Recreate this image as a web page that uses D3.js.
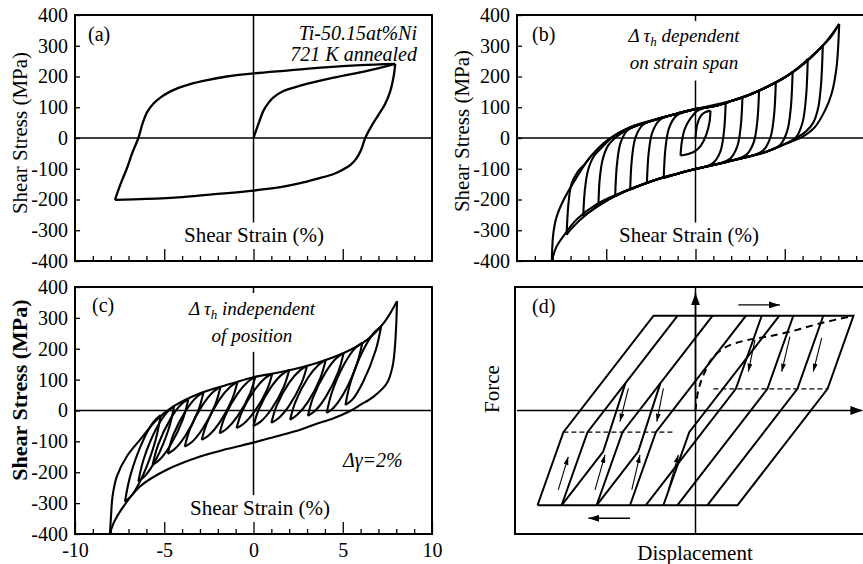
<!DOCTYPE html>
<html>
<head>
<meta charset="utf-8">
<title>Shear stress - strain loops</title>
<script src="https://cdn.jsdelivr.net/npm/d3@7"></script>
<style>
  body { margin: 0; background: #fff; }
  svg, text { font-family: "Liberation Serif", "Tinos", "Times New Roman", Times, "Nimbus Roman", "FreeSerif", "DejaVu Serif", serif; }
</style>
</head>
<body>
<svg width="863" height="564" id="mainsvg"></svg>
<script>
// ---------- data (strain %, shear stress MPa) ----------
const strainMinor = [-9,-8,-7,-6,-4,-3,-2,-1,1,2,3,4,6,7,8,9]
const strainMajor = [-5, 0, 5]
const strainLabels = [-10, -5, 0, 5, 10]
const stressTicks = [-400,-300,-200,-100,0,100,200,300,400]

// (a) single loop with virgin curve
const aVirgin = [[0,0],[0.3,50],[0.56,89],[0.85,115],[1.12,132],[1.68,153],[2.62,170],[4.49,196],[6.36,218],[7.94,241]]
const aUpper = [[7.94,241],[6,237],[4,230],[2,220],[0,210],[-1.5,200],[-2.6,188],[-3.55,175],[-4.2,163],[-4.7,150],[-5.2,132],[-5.6,112],[-5.95,85],[-6.2,50],[-6.45,0],[-6.8,-50],[-7.1,-100],[-7.45,-150],[-7.76,-201]]
const aLower = [[-7.76,-201],[-6,-198],[-4,-192],[-2,-182],[0,-171],[1.5,-160],[2.62,-147],[3.6,-132],[4.49,-117],[5.0,-103],[5.42,-88],[5.75,-68],[6.02,-40],[6.26,0],[6.6,38],[7.0,75],[7.35,108],[7.65,150],[7.85,200],[7.94,241]]

// (b) growing strain span, one branch per half cycle
const bBranches = [
  [[0,0],[0.1,45],[0.3,72],[0.55,84],[0.84,89]],
  [[0.84,89],[0.78,50],[0.6,10],[0.3,-25],[0,-42],[-0.4,-52],[-0.84,-57]],
  [[-0.84,-57],[-0.76,-10],[-0.6,30],[-0.3,62],[0.1,88],[0.6,100],[1.2,106],[1.69,112]],
  [[1.69,112],[1.59,18],[1.39,-44],[0.99,-81],[0.39,-96],[0,-101],[-1,-116],[-1.78,-130]],
  [[-1.78,-130],[-1.68,-32],[-1.48,33],[-1.08,72],[-0.48,87],[0,94],[1,103],[2,120],[2.63,132]],
  [[2.63,132],[2.53,35],[2.33,-29],[1.93,-68],[1.33,-83],[0,-101],[-1,-116],[-2,-132],[-2.72,-146]],
  [[-2.72,-146],[-2.62,-47],[-2.42,18],[-2.02,58],[-1.42,73],[-1,80],[0,94],[1,103],[2,120],[3,140],[3.56,154]],
  [[3.56,154],[3.46,53],[3.26,-14],[2.86,-54],[2.26,-70],[1,-88],[0,-101],[-1,-116],[-2,-132],[-3,-152],[-3.66,-168]],
  [[-3.66,-168],[-3.56,-66],[-3.36,2],[-2.96,42],[-2.36,58],[-1,80],[0,94],[1,103],[2,120],[3,140],[4,166],[4.5,181]],
  [[4.5,181],[4.4,74],[4.2,2],[3.8,-40],[3.2,-57],[2,-74],[1,-88],[0,-101],[-1,-116],[-2,-132],[-3,-152],[-4,-175],[-4.5,-190]],
  [[-4.5,-190],[-4.4,-86],[-4.2,-16],[-3.8,26],[-3.2,42],[-2,64],[-1,80],[0,94],[1,103],[2,120],[3,140],[4,166],[5,197],[5.44,214]],
  [[5.44,214],[5.34,99],[5.14,23],[4.74,-23],[4.14,-41],[3,-60],[2,-74],[1,-88],[0,-101],[-1,-116],[-2,-132],[-3,-152],[-4,-175],[-5,-204],[-5.44,-220]],
  [[-5.44,-220],[-5.36,-130],[-5.2,-70],[-4.9,-25],[-4.4,5],[-3.7,30],[-3,46],[-2,64],[-1,80],[0,94],[1,103],[2,120],[3,140],[4,166],[5,197],[6,240],[6.29,257]],
  [[6.29,257],[6.19,132],[5.99,49],[5.59,-1],[4.99,-20],[4,-44],[3,-60],[2,-74],[1,-88],[0,-101],[-1,-116],[-2,-132],[-3,-152],[-4,-175],[-5,-204],[-6,-243],[-6.29,-255]],
  [[-6.29,-255],[-6.2,-170],[-6.02,-105],[-5.7,-60],[-5.2,-28],[-4.6,5],[-4,24],[-3,46],[-2,64],[-1,80],[0,94],[1,103],[2,120],[3,140],[4,166],[5,197],[6,240],[7,293],[7.13,300]],
  [[7.13,300],[7.04,180],[6.88,100],[6.6,50],[6.2,22],[5.7,2],[5,-20],[4,-44],[3,-60],[2,-74],[1,-88],[0,-101],[-1,-116],[-2,-132],[-3,-152],[-4,-175],[-5,-204],[-6,-243],[-7,-298],[-7.22,-315]],
  [[-7.22,-315],[-7.12,-215],[-6.95,-150],[-6.6,-110],[-6.2,-85],[-5.91,-63],[-4.97,-9],[-3.66,35],[-3,46],[-2,64],[-1,80],[0,94],[1,103],[2,120],[3,140],[4,166],[5,197],[6,240],[7,293],[7.6,330],[8.05,371]],
  [[8.05,371],[7.9,230],[7.62,143],[7.25,89],[6.68,35],[5.93,2],[4.99,-20],[3.85,-47],[1.97,-74],[0,-101],[-1.78,-128],[-3.66,-166],[-5.53,-215],[-6.66,-265],[-7.41,-320],[-7.8,-355],[-8.05,-400]],
  [[-8.05,-400],[-7.97,-313],[-7.79,-258],[-7.41,-204],[-6.66,-128],[-5.91,-63],[-4.97,-9],[-3.66,35],[-1.78,67],[0,94],[1.97,120],[3.85,162],[5.72,225],[7.13,300],[8.05,371]]
]

// (c) outer loop and Δγ = 2 % loops at shifted positions
const cOuterUp = [[-8.04,-398],[-7.97,-330],[-7.9,-279],[-7.66,-214],[-7.1,-149],[-6.36,-95],[-5.42,-30],[-4.49,13],[-2.99,56],[-1.12,89],[0,108],[1.68,126],[3.55,154],[5.05,186],[6.36,229],[7.29,283],[8.04,354]]
const cOuterDown = [[8.04,354],[7.99,270],[7.9,190],[7.78,140],[7.48,89],[6.73,45],[5.98,18],[5.3,-5],[4.49,-25],[3.5,-44],[2.62,-62],[1.2,-85],[0,-104],[-1.5,-125],[-2.99,-149],[-4.86,-192],[-6.36,-246],[-7.29,-311],[-7.8,-360],[-8.04,-398]]
const cLoopRise = [
  [[-7.2,-295],[-6.9,-211],[-6.2,-99],[-5.6,-37],[-5.2,-15]],
  [[-6.45,-230],[-6.15,-157],[-5.45,-59],[-4.85,-6],[-4.45,14]],
  [[-5.65,-176],[-5.35,-112],[-4.65,-27],[-4.05,20],[-3.65,37]],
  [[-4.8,-140],[-4.5,-80],[-3.8,-1],[-3.2,43],[-2.8,59]],
  [[-3.85,-117],[-3.55,-59],[-2.85,18],[-2.25,61],[-1.85,76]],
  [[-2.9,-95],[-2.6,-39],[-1.9,36],[-1.3,77],[-0.9,92]],
  [[-1.9,-74],[-1.6,-19],[-0.9,54],[-0.3,94],[0.1,109]],
  [[-0.95,-57],[-0.65,-4],[0.05,66],[0.65,105],[1.05,119]],
  [[0,-50],[0.3,4],[1.0,77],[1.6,117],[2.0,131]],
  [[1,-40],[1.3,16],[2.0,90],[2.6,130],[3,145]],
  [[2.05,-30],[2.35,28],[3.05,106],[3.65,148],[4.05,164]],
  [[3.05,-17],[3.35,44],[4.05,125],[4.65,170],[5.05,186]],
  [[4.1,-8],[4.4,60],[5.1,152],[5.7,202],[6.1,220]],
  [[5.15,18],[5.45,94],[6.15,196],[6.75,252],[7.15,272]]
]
const cLoopFall = [
  [[-5.2,-15],[-5.5,-99],[-6.2,-211],[-6.8,-273],[-7.2,-295]],
  [[-4.45,14],[-4.75,-59],[-5.45,-157],[-6.05,-210],[-6.45,-230]],
  [[-3.65,37],[-3.95,-27],[-4.65,-112],[-5.25,-159],[-5.65,-176]],
  [[-2.8,59],[-3.1,-1],[-3.8,-80],[-4.4,-124],[-4.8,-140]],
  [[-1.85,76],[-2.15,18],[-2.85,-59],[-3.45,-102],[-3.85,-117]],
  [[-0.9,92],[-1.2,36],[-1.9,-39],[-2.5,-80],[-2.9,-95]],
  [[0.1,109],[-0.2,54],[-0.9,-19],[-1.5,-59],[-1.9,-74]],
  [[1.05,119],[0.75,66],[0.05,-4],[-0.55,-43],[-0.95,-57]],
  [[2.0,131],[1.7,77],[1.0,4],[0.4,-36],[0,-50]],
  [[3,145],[2.7,90],[2.0,16],[1.4,-25],[1,-40]],
  [[4.05,164],[3.75,106],[3.05,28],[2.45,-14],[2.05,-30]],
  [[5.05,186],[4.75,125],[4.05,44],[3.45,-1],[3.05,-17]],
  [[6.1,220],[5.8,152],[5.1,60],[4.5,10],[4.1,-8]],
  [[7.15,272],[6.85,196],[6.15,94],[5.55,36],[5.15,18]]
]

// (d) schematic, arbitrary displacement / force units
const dOuter = [[-8.85,-307],[-7.4,-70],[-2.35,307],[8.85,307],[7.4,70],[2.35,-307],[-8.85,-307]]
const dLeftCopies = [
  [[-7.5,-307],[-6.05,-70],[-1.0,307]],
  [[-5.54,-307],[-4.09,-70],[0.96,307]],
  [[-3.67,-307],[-2.22,-70],[2.83,307]],
  [[-1.8,-307],[-0.35,-70],[4.7,307]]
]
const dRightCopies = [
  [[7.16,307],[5.71,70],[0.66,-307]],
  [[5.48,307],[4.03,70],[-1.02,-307]],
  [[3.71,307],[2.26,70],[-2.79,-307]]
]
const dLoopLines = [
  [[-7.5,-307],[-5.17,-133],[-3.93,88]],
  [[-5.54,-307],[-3.21,-133],[-1.97,88]]
]
const dDashed = [
  [[-7.4,-70],[-1.15,-70]],
  [[1.0,70],[7.4,70]]
]
const dVirgin = [[0,0],[0.16,66],[0.53,126],[1.0,174],[1.75,207],[2.87,228],[3.99,239],[5.29,255],[6.97,282],[8.85,307]]
const dSmallArrows = [
  [[-7.69,-257],[-7.13,-150]], [[-5.63,-257],[-5.07,-144]],
  [[-3.57,-257],[-3.11,-144]], [[-1.52,-257],[-0.96,-144]],
  [[-3.76,72],[-4.23,-36]], [[-1.8,72],[-2.17,-36]],
  [[3.33,229],[2.96,126]], [[5.29,239],[4.83,126]], [[7.07,235],[6.6,126]]
]
const dSideArrows = [
  [[2.4,342],[4.73,342]],
  [[-3.67,-349],[-6.0,-349]]
]

// ---------- layout ----------
const serif = '"Liberation Serif", "Tinos", "Times New Roman", Times, "Nimbus Roman", "FreeSerif", "DejaVu Serif", serif'
const svg = d3.select('#mainsvg').attr('font-family', serif)
svg.append('rect').attr('width', 863).attr('height', 564).attr('fill', '#fff')

const frames = {
  a: {left: 75, right: 432, top: 15, bottom: 261},
  b: {left: 517, right: 874, top: 15, bottom: 261},
  c: {left: 75, right: 432, top: 287, bottom: 534},
  d: {left: 517, right: 874, top: 287, bottom: 534}
}
const scalesFor = f => ({
  x: d3.scaleLinear().domain([-10, 10]).range([f.left, f.right]),
  y: d3.scaleLinear().domain([-400, 400]).range([f.bottom, f.top])
})

const defs = svg.append('defs')
const marker = (id, len, wid) => defs.append('marker')
  .attr('id', id).attr('markerUnits', 'userSpaceOnUse')
  .attr('markerWidth', len).attr('markerHeight', wid)
  .attr('refX', len).attr('refY', wid / 2).attr('orient', 'auto')
  .append('path').attr('d', `M0,0L${len},${wid / 2}L0,${wid}Z`).attr('fill', '#000')
marker('headSmall', 8, 5)
marker('headSide', 11, 7)
marker('headAxis', 12, 9)

const smooth = sc => d3.line().x(d => sc.x(d[0])).y(d => sc.y(d[1])).curve(d3.curveCatmullRom.alpha(0.5))
const straight = sc => d3.line().x(d => sc.x(d[0])).y(d => sc.y(d[1]))

function frameAndAxes(key, opts) {
  const f = frames[key]
  const sc = scalesFor(f)
  const g = svg.append('g').attr('id', 'panel-' + key)

  // zero lines
  g.append('line')
    .attr('x1', sc.x(-10)).attr('x2', sc.x(10)).attr('y1', sc.y(0)).attr('y2', sc.y(0))
    .attr('stroke', '#000').attr('stroke-width', 1.5)
  g.append('line')
    .attr('x1', sc.x(0)).attr('x2', sc.x(0)).attr('y1', sc.y(opts.vTop)).attr('y2', sc.y(opts.vBottom))
    .attr('stroke', '#000').attr('stroke-width', 1.5)
  if (opts.topTick) {
    g.append('line')
      .attr('x1', sc.x(0)).attr('x2', sc.x(0)).attr('y1', f.top).attr('y2', f.top + 6)
      .attr('stroke', '#000').attr('stroke-width', 1.5)
  }

  // ticks point inward
  const minor = g.append('g').attr('transform', `translate(0,${f.bottom})`)
    .call(d3.axisBottom(sc.x).tickValues(strainMinor).tickSize(-5).tickFormat(''))
  const major = g.append('g').attr('transform', `translate(0,${f.bottom})`)
    .call(d3.axisBottom(sc.x).tickValues(opts.labels ? strainLabels : strainMajor)
      .tickSize(-12).tickPadding(9).tickFormat(opts.labels ? d => String(d) : ''))
  const left = g.append('g').attr('transform', `translate(${f.left},0)`)
    .call(d3.axisLeft(sc.y).tickValues(stressTicks).tickSize(-5).tickPadding(7).tickFormat(d => String(d)))
  ;[minor, major, left].forEach(ax => {
    ax.select('.domain').remove()
    ax.selectAll('line').attr('stroke-width', 1.3)
    ax.attr('font-family', serif).attr('font-size', 20)
    ax.selectAll('text').attr('fill', '#000')
  })

  g.append('rect')
    .attr('x', f.left).attr('y', f.top).attr('width', f.right - f.left).attr('height', f.bottom - f.top)
    .attr('fill', 'none').attr('stroke', '#000').attr('stroke-width', 2)

  g.append('text')
    .attr('transform', `translate(${f.left - 48},${opts.yLabelY}) rotate(-90)`)
    .attr('text-anchor', 'middle').attr('font-size', opts.yLabelSize)
    .attr('font-weight', opts.yLabelWeight)
    .text('Shear Stress (MPa)')
  g.append('text')
    .attr('x', opts.xLabelX).attr('y', f.bottom - 19)
    .attr('text-anchor', 'middle').attr('font-size', 21)
    .text('Shear Strain (%)')
  return {g, sc, f}
}

function drawCurves(g, sc, list, width) {
  g.append('g').selectAll('path')
    .data(list)
    .join('path')
    .attr('d', smooth(sc))
    .attr('fill', 'none')
    .attr('stroke', '#000')
    .attr('stroke-width', width)
    .attr('stroke-linejoin', 'round')
}

function deltaTau(g, x, y, rest) {
  const t = g.append('text').attr('x', x).attr('y', y)
    .attr('text-anchor', 'middle').attr('font-size', 19).attr('font-style', 'italic')
  t.append('tspan').text('Δ\u2009τ')
  t.append('tspan').attr('font-size', 13).attr('dy', 4).text('h')
  t.append('tspan').attr('dy', -4).text(' ' + rest)
}

// ---------- panel (a) ----------
{
  const {g, sc} = frameAndAxes('a', {vTop: 400, vBottom: -275, topTick: false, labels: false,
    xLabelX: 254, yLabelY: 133, yLabelSize: 21, yLabelWeight: 'normal'})
  drawCurves(g, sc, [aVirgin, aUpper, aLower], 2.3)
  g.append('text').attr('x', 88).attr('y', 41).attr('font-size', 20).text('(a)')
  g.append('text').attr('x', 417).attr('y', 40).attr('text-anchor', 'end')
    .attr('font-size', 20).attr('font-style', 'italic').text('Ti-50.15at%Ni')
  g.append('text').attr('x', 417).attr('y', 61).attr('text-anchor', 'end')
    .attr('font-size', 20).attr('font-style', 'italic').text('721 K annealed')
}

// ---------- panel (b) ----------
{
  const {g, sc} = frameAndAxes('b', {vTop: 187, vBottom: -275, topTick: true, labels: false,
    xLabelX: 689, yLabelY: 131, yLabelSize: 21, yLabelWeight: 'normal'})
  drawCurves(g, sc, bBranches, 2.1)
  g.append('text').attr('x', 532).attr('y', 41).attr('font-size', 20).text('(b)')
  deltaTau(g, 684, 42, 'dependent')
  g.append('text').attr('x', 684).attr('y', 69).attr('text-anchor', 'middle')
    .attr('font-size', 19).attr('font-style', 'italic').text('on strain span')
}

// ---------- panel (c) ----------
{
  const {g, sc} = frameAndAxes('c', {vTop: 190, vBottom: -274, topTick: true, labels: true,
    xLabelX: 260, yLabelY: 390, yLabelSize: 22, yLabelWeight: 'bold'})
  drawCurves(g, sc, [cOuterUp, cOuterDown].concat(cLoopRise, cLoopFall), 2.1)
  g.append('text').attr('x', 92).attr('y', 312).attr('font-size', 20).text('(c)')
  deltaTau(g, 252, 315, 'independent')
  g.append('text').attr('x', 252).attr('y', 342).attr('text-anchor', 'middle')
    .attr('font-size', 19).attr('font-style', 'italic').text('of position')
  g.append('text').attr('x', 343).attr('y', 467)
    .attr('font-size', 20).attr('font-style', 'italic').text('Δγ=2%')
}

// ---------- panel (d) ----------
{
  const f = frames.d
  const sc = scalesFor(f)
  const g = svg.append('g').attr('id', 'panel-d')
  const line = straight(sc)

  g.append('rect')
    .attr('x', f.left - 2).attr('y', f.top).attr('width', f.right - f.left + 2).attr('height', f.bottom - f.top)
    .attr('fill', 'none').attr('stroke', '#000').attr('stroke-width', 2)

  // axes with arrow heads
  g.append('path').attr('d', line([[0, -400], [0, 400]])).attr('stroke', '#000').attr('stroke-width', 1.5)
  g.append('path').attr('d', line([[0, 0], [0, 380]])).attr('stroke', '#000').attr('stroke-width', 1.5)
    .attr('marker-end', 'url(#headAxis)')
  g.append('path').attr('d', line([[-10, 0], [9.35, 0]])).attr('stroke', '#000').attr('stroke-width', 1.5)
    .attr('marker-end', 'url(#headAxis)')

  g.append('g').selectAll('path')
    .data([dOuter].concat(dLeftCopies, dRightCopies, dLoopLines))
    .join('path')
    .attr('d', line)
    .attr('fill', 'none').attr('stroke', '#000').attr('stroke-width', 2).attr('stroke-linejoin', 'miter')

  g.append('g').selectAll('path')
    .data(dDashed)
    .join('path')
    .attr('d', line)
    .attr('fill', 'none').attr('stroke', '#000').attr('stroke-width', 1.4).attr('stroke-dasharray', '5,3')

  g.append('path').attr('d', smooth(sc)(dVirgin))
    .attr('fill', 'none').attr('stroke', '#000').attr('stroke-width', 2).attr('stroke-dasharray', '7,5')

  g.append('g').selectAll('path')
    .data(dSmallArrows)
    .join('path')
    .attr('d', line)
    .attr('stroke', '#000').attr('stroke-width', 1.1).attr('marker-end', 'url(#headSmall)')

  g.append('g').selectAll('path')
    .data(dSideArrows)
    .join('path')
    .attr('d', line)
    .attr('stroke', '#000').attr('stroke-width', 1.3).attr('marker-end', 'url(#headSide)')

  g.append('text').attr('x', 532).attr('y', 313).attr('font-size', 20).text('(d)')
  g.append('text')
    .attr('transform', 'translate(499,389) rotate(-90)')
    .attr('text-anchor', 'middle').attr('font-size', 21).text('Force')
  g.append('text').attr('x', 695).attr('y', 560)
    .attr('text-anchor', 'middle').attr('font-size', 21).text('Displacement')
}
</script>
</body>
</html>
